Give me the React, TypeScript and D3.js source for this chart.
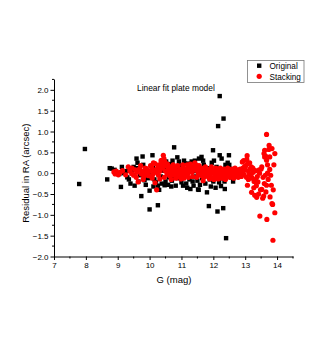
import * as d3 from "d3";
import React, { useEffect, useRef } from "react";

// Original (black squares): G and residual
const originalG = [
  7.79, 7.97, 8.67, 8.75, 8.81, 8.9, 8.95, 9.05, 9.1, 9.13, 9.2, 9.25, 9.3, 9.35, 9.4, 9.45, 9.53, 9.59, 9.6,
  9.65, 9.7, 9.74, 9.78, 9.8, 9.84, 9.9, 9.95, 10.0, 10.0, 10.05, 10.09, 10.1, 10.15, 10.2, 10.26, 10.26, 10.3,
  10.35, 10.4, 10.45, 10.47, 10.5, 10.55, 10.58, 10.6, 10.65, 10.7, 10.75, 10.77, 10.8, 10.82, 10.85, 10.87,
  10.9, 10.95, 11.0, 11.0, 11.05, 11.1, 11.12, 11.15, 11.21, 11.25, 11.3, 11.35, 11.4, 11.42, 11.45, 11.5,
  11.52, 11.54, 11.55, 11.6, 11.63, 11.65, 11.7, 11.7, 11.75, 11.8, 11.82, 11.85, 11.86, 11.9, 11.95, 11.99,
  12.0, 12.05, 12.07, 12.1, 12.12, 12.13, 12.15, 12.2, 12.2, 12.24, 12.25, 12.26, 12.3, 12.31, 12.32, 12.35,
  12.36, 12.4, 12.42, 12.45, 12.49, 12.5, 12.55,
  9.5, 9.62, 9.88, 10.12, 10.38, 10.42, 10.52, 10.68, 10.72, 10.92, 11.08, 11.18, 11.32, 11.38, 11.58, 11.68,
  11.92, 12.02, 12.18, 12.38, 12.45, 12.52, 12.6, 12.62, 9.4, 10.3, 11.28,
];
const originalR = [
  -0.26, 0.58, -0.15, 0.12, 0.11, 0.08, 0.03, -0.02, -0.33, 0.15, 0.0, 0.05, -0.1, -0.15, 0.1, 0.02, -0.3, 0.35, 0.12,
  -0.2, -0.05, -0.55, 0.4, 0.2, -0.17, 0.05, -0.12, -0.42, -0.87, -0.05, 0.43, 0.12, -0.15, -0.22, -0.77, -0.3, 0.18,
  -0.08, 0.06, 0.1, -0.29, -0.2, 0.15, -0.28, -0.1, 0.22, -0.18, -0.1, 0.62, 0.0, -0.3, 0.1, 0.38,
  -0.12, 0.18, -0.22, 0.05, -0.3, 0.23, -0.05, -0.25, 0.23, -0.15, 0.12, -0.2, 0.05, 0.3, -0.08, -0.18,
  -0.39, -0.4, 0.35, 0.1, 0.39, -0.12, 0.2, -0.05, -0.25, -0.46, 0.12, 0.05, -0.79, -0.15, 0.25, 0.55,
  -0.2, -0.05, -0.35, 0.15, 0.02, -0.92, 1.13, 1.85, 0.43, -0.31, 0.08, 0.35, -0.12, -0.84, 1.31, -0.2,
  -0.38, -1.56, 0.1, -0.05, 0.43, 0.2, -0.1,
  0.15, 0.25, -0.28, -0.32, -0.25, 0.3, 0.28, -0.32, 0.3, 0.28, 0.3, -0.35, 0.28, -0.3, -0.28, 0.3,
  -0.32, 0.3, -0.22, 0.2, 0.25, 0.1, 0.05, -0.2, -0.25, -0.4, -0.38,
];

// Stacking (red circles): G and residual
const stackingG = [
  8.88, 8.92, 8.95, 9.0, 9.02, 9.08, 9.33, 9.38, 9.44, 9.5, 9.55, 9.6, 9.64, 9.68, 9.7, 9.74, 9.78, 9.82, 9.86,
  9.9, 9.93, 9.97, 10.0, 10.03, 10.06, 10.1, 10.13, 10.17, 10.17, 10.2, 10.22, 10.22, 10.25, 10.28, 10.3, 10.33,
  10.36, 10.38, 10.4, 10.42, 10.43, 10.45, 10.48, 10.5, 10.52, 10.55, 10.58, 10.6, 10.63, 10.66, 10.7, 10.72,
  10.75, 10.78, 10.8, 10.83, 10.86, 10.9, 10.93, 10.96, 11.0, 11.03, 11.06, 11.1, 11.13, 11.16, 11.2, 11.23,
  11.26, 11.3, 11.33, 11.37, 11.4, 11.44, 11.47, 11.5, 11.53, 11.56, 11.6, 11.63, 11.66, 11.7, 11.73, 11.76,
  11.8, 11.83, 11.86, 11.9, 11.93, 11.96, 12.0, 12.03, 12.06, 12.1, 12.13, 12.16, 12.2, 12.23, 12.26, 12.3,
  12.33, 12.36, 12.4, 12.43, 12.46, 12.5, 12.53, 12.56, 12.6, 12.63, 12.66, 12.7, 12.73, 12.76, 12.8, 12.83,
  12.86, 12.9, 12.91, 12.93, 12.96, 13.0, 13.02, 13.04, 13.06, 13.07, 13.08, 13.1, 13.12, 13.15, 13.19, 13.2,
  13.22, 13.25, 13.28, 13.3, 13.32, 13.35, 13.36, 13.38, 13.4, 13.42, 13.45, 13.46, 13.48, 13.5, 13.52, 13.52,
  13.55, 13.56, 13.59, 13.6, 13.61, 13.61, 13.64, 13.65, 13.67, 13.67, 13.67, 13.68, 13.7, 13.72, 13.74, 13.75,
  13.77, 13.77, 13.78, 13.8, 13.82, 13.84, 13.84, 13.86, 13.87, 13.88, 13.9, 13.93, 13.93,
  9.15, 9.25, 9.45, 9.58, 9.72, 9.8, 9.88, 10.08, 10.12, 10.27, 10.32, 10.46, 10.56, 10.62, 10.68, 10.74,
  10.82, 10.88, 10.98, 11.04, 11.08, 11.18, 11.22, 11.28, 11.35, 11.42, 11.48, 11.55, 11.62, 11.68, 11.75, 11.82,
  11.88, 11.94, 12.02, 12.08, 12.15, 12.22, 12.28, 12.34, 12.38, 12.45, 12.52, 12.58, 12.64, 12.68, 12.74, 12.78,
  12.84, 12.88, 12.95, 12.98, 13.05, 13.1, 13.14, 13.18, 13.24, 13.27, 13.33, 13.44, 13.58, 13.63, 13.7,
];
const stackingR = [
  0.03, -0.02, 0.05, 0.0, -0.04, 0.02, 0.15, 0.05, -0.01, -0.05, 0.08, 0.02, -0.21, 0.1, 0.07, -0.02, 0.04, -0.08, 0.12,
  0.11, 0.02, -0.06, 0.05, 0.18, 0.15, -0.03, 0.08, -0.23, 0.23, 0.02, 0.07, -0.4, 0.12, -0.05, 0.2, 0.05,
  0.3, 0.31, 0.12, 0.22, 0.43, 0.35, 0.27, 0.05, 0.18, -0.02, 0.1, 0.03, -0.06, 0.08, 0.0, 0.12,
  -0.04, 0.05, 0.14, -0.02, 0.06, -0.08, 0.02, 0.1, -0.03, 0.05, 0.12, -0.05, 0.04, 0.1, 0.0, 0.14,
  0.06, 0.1, 0.02, 0.15, 0.08, 0.12, 0.19, 0.05, -0.03, 0.08, 0.0, -0.06, 0.03, -0.1, 0.05, -0.02,
  0.02, -0.08, 0.04, -0.04, 0.08, -0.12, 0.0, 0.06, -0.05, 0.02, -0.08, 0.05, -0.02, 0.04, -0.06, 0.0,
  -0.04, 0.03, -0.08, 0.02, -0.03, 0.05, -0.05, 0.0, -0.08, 0.03, -0.02, 0.06, -0.06, 0.0, 0.03, -0.04,
  0.05, 0.0, 0.27, 0.12, -0.03, 0.08, 0.18, -0.1, 0.42, -0.29, 0.23, 0.05, -0.02, 0.1, 0.15, -0.46,
  -0.12, 0.02, -0.2, -0.53, 0.06, -0.3, -0.58, -0.08, -0.21, -0.5, 0.0, -1.03, -0.4, 0.1, 0.15, -0.39,
  -0.6, -0.1, 0.47, -0.25, 0.39, 0.55, 0.41, -0.45, 0.93, 0.31, -0.29, -1.11, 0.0, -0.15, 0.57, 0.67,
  0.39, 0.09, -0.57, -0.05, -0.29, 0.59, -0.73, -0.75, -1.61, -0.4, 0.2, 0.47, -0.95,
  0.06, -0.04, 0.12, -0.1, 0.18, -0.15, -0.04, -0.12, 0.25, 0.15, -0.14, -0.1, 0.22, 0.16, -0.15, 0.2,
  -0.12, 0.18, -0.14, 0.2, -0.12, 0.2, -0.1, 0.22, -0.08, 0.25, -0.1, 0.18, 0.12, -0.18, 0.15, 0.1,
  -0.14, 0.15, -0.15, 0.12, -0.14, 0.12, -0.12, 0.1, -0.15, 0.12, -0.1, 0.1, -0.12, 0.12, 0.08, -0.1,
  0.1, -0.08, 0.3, 0.16, 0.33, -0.15, 0.25, -0.05, 0.12, -0.35, -0.15, 0.08, -0.55, -0.05, 0.2,
];

const xTicks = [7, 8, 9, 10, 11, 12, 13, 14];
const yTicks = [-2.0, -1.5, -1.0, -0.5, 0.0, 0.5, 1.0, 1.5, 2.0];
const legendLabels = ["Original", "Stacking"];

const W = 327;
const H = 345;
const FONT = "'Liberation Sans', Arial, sans-serif";

export default function App() {
  const ref = useRef<SVGSVGElement>(null);

  useEffect(() => {
    document.body.style.margin = "0";
    const svg = d3.select(ref.current);
    svg.selectAll("*").remove();

    const left = 54;
    const right = 293;
    const top = 79;
    const bottom = 256.5;

    const x = d3.scaleLinear().domain([7, 14.5]).range([left, right]);
    const y = d3.scaleLinear().domain([-2, 2.26]).range([bottom, top]);

    // axes
    const xAxis = d3
      .axisBottom(x)
      .tickValues(xTicks)
      .tickFormat((d) => String(d))
      .tickSize(3.5)
      .tickSizeOuter(0)
      .tickPadding(2);
    const gx = svg.append("g").attr("transform", `translate(0,${bottom})`).call(xAxis);

    const yAxis = d3
      .axisLeft(y)
      .tickValues(yTicks)
      .tickFormat(d3.format(".1f"))
      .tickSize(3.5)
      .tickSizeOuter(0)
      .tickPadding(2);
    const gy = svg.append("g").attr("transform", `translate(${left},0)`).call(yAxis);

    [gx, gy].forEach((g) => {
      g.select(".domain").attr("stroke", "#000").attr("stroke-width", 1);
      g.selectAll(".tick line").attr("stroke", "#000");
      g.selectAll(".tick text").attr("font-family", FONT).attr("font-size", 8).attr("fill", "#000");
    });

    // minor ticks
    svg
      .append("g")
      .selectAll("line")
      .data(d3.range(7.5, 14.6, 1))
      .enter()
      .append("line")
      .attr("x1", (d) => x(d))
      .attr("x2", (d) => x(d))
      .attr("y1", bottom)
      .attr("y2", bottom + 2)
      .attr("stroke", "#000");
    svg
      .append("g")
      .selectAll("line")
      .data(d3.range(-1.75, 2.3, 0.5))
      .enter()
      .append("line")
      .attr("x1", left - 2)
      .attr("x2", left)
      .attr("y1", (d) => y(d))
      .attr("y2", (d) => y(d))
      .attr("stroke", "#000");

    // points: black first, red on top
    const plot = svg.append("g");
    plot
      .selectAll("rect")
      .data(originalG.map((g, i) => [g, originalR[i]]))
      .enter()
      .append("rect")
      .attr("x", (d) => x(d[0]) - 2.2)
      .attr("y", (d) => y(d[1]) - 2.2)
      .attr("width", 4.4)
      .attr("height", 4.4)
      .attr("fill", "#000");
    plot
      .selectAll("circle")
      .data(stackingG.map((g, i) => [g, stackingR[i]]))
      .enter()
      .append("circle")
      .attr("cx", (d) => x(d[0]))
      .attr("cy", (d) => y(d[1]))
      .attr("r", 2.6)
      .attr("fill", "#ff0000");

    // title
    svg
      .append("text")
      .attr("x", 137)
      .attr("y", 91)
      .attr("font-family", FONT)
      .attr("font-size", 8.4)
      .text("Linear fit plate model");

    // axis labels
    svg
      .append("text")
      .attr("x", 174)
      .attr("y", 283)
      .attr("text-anchor", "middle")
      .attr("font-family", FONT)
      .attr("font-size", 9.5)
      .text("G (mag)");
    svg
      .append("text")
      .attr("transform", `translate(29,${y(0)}) rotate(-90)`)
      .attr("text-anchor", "middle")
      .attr("font-family", FONT)
      .attr("font-size", 9.5)
      .text("Residual in RA (arcsec)");

    // legend
    const lg = svg.append("g");
    lg.append("rect")
      .attr("x", 247.5)
      .attr("y", 60.5)
      .attr("width", 56.5)
      .attr("height", 22)
      .attr("fill", "#fff")
      .attr("stroke", "#777")
      .attr("stroke-width", 0.8);
    lg.append("rect").attr("x", 257).attr("y", 63.5).attr("width", 4.4).attr("height", 4.4).attr("fill", "#000");
    lg.append("circle").attr("cx", 259.2).attr("cy", 76.3).attr("r", 2.6).attr("fill", "#ff0000");
    lg.selectAll("text")
      .data(legendLabels)
      .enter()
      .append("text")
      .attr("x", 269.5)
      .attr("y", (d, i) => 68.8 + i * 10.7)
      .attr("font-family", FONT)
      .attr("font-size", 8.2)
      .text((d) => d);
  }, []);

  return <svg ref={ref} width={W} height={H} style={{ display: "block", background: "#fff" }} />;
}
